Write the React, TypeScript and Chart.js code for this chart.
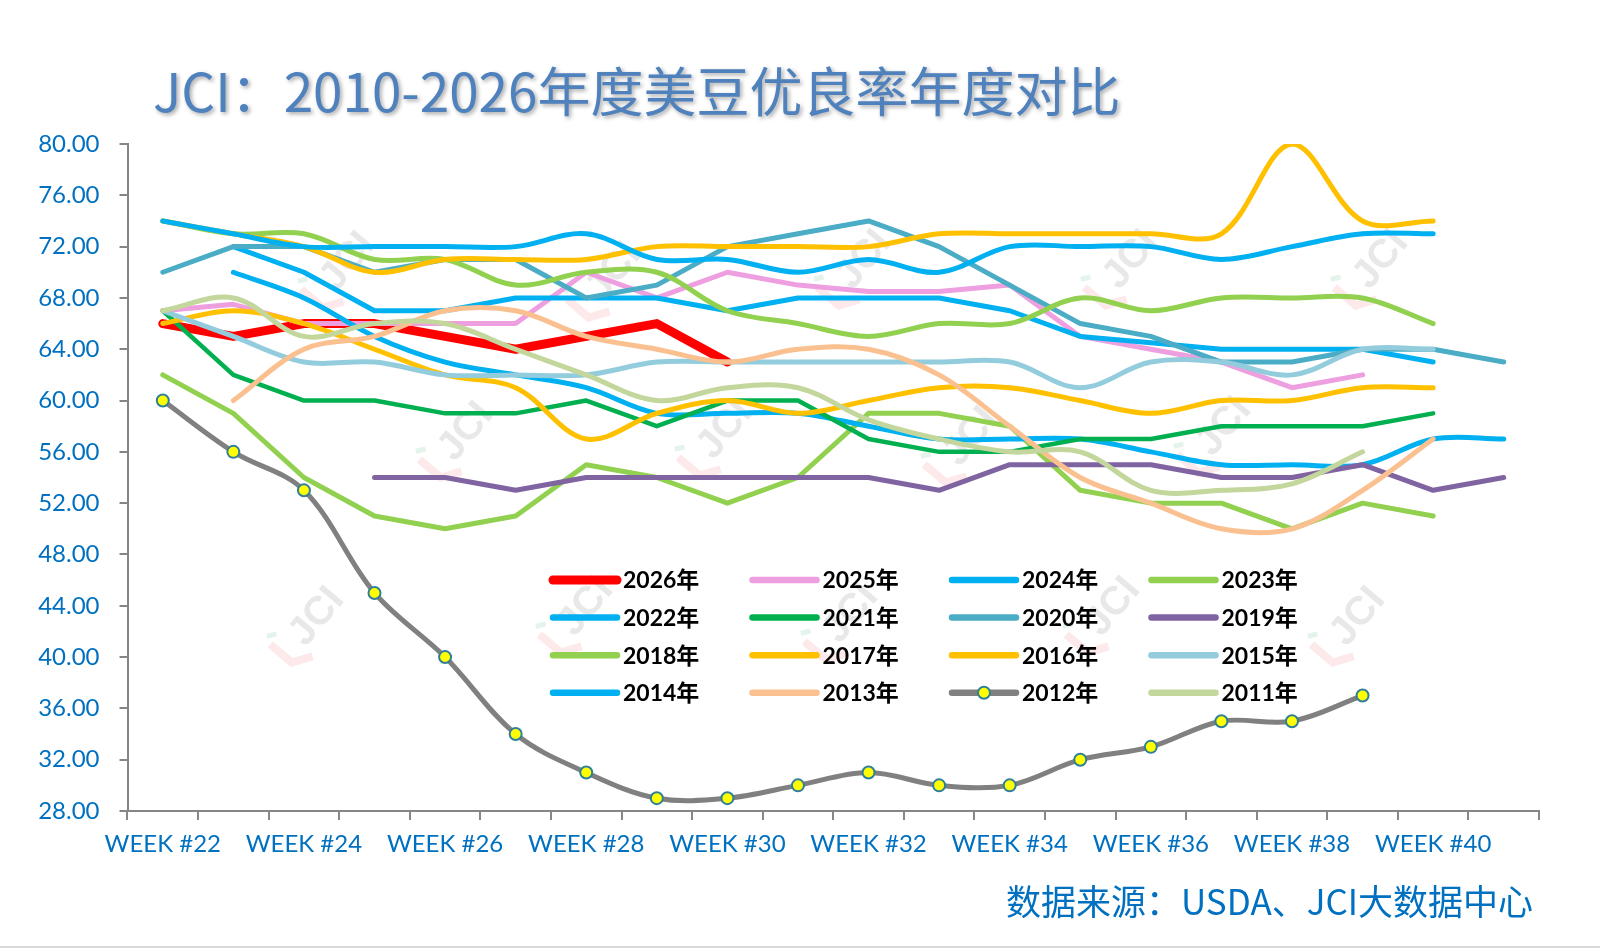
import { useEffect, useRef } from 'react';
import { Chart, registerables } from 'chart.js';

Chart.register(...registerables);

const TITLE = 'JCI：2010-2026年度美豆优良率年度对比';
const SOURCE = '数据来源：USDA、JCI大数据中心';

const weeks = [
  'WEEK #22', 'WEEK #23', 'WEEK #24', 'WEEK #25', 'WEEK #26', 'WEEK #27', 'WEEK #28',
  'WEEK #29', 'WEEK #30', 'WEEK #31', 'WEEK #32', 'WEEK #33', 'WEEK #34', 'WEEK #35',
  'WEEK #36', 'WEEK #37', 'WEEK #38', 'WEEK #39', 'WEEK #40', 'WEEK #41',
];

const _ = null;
const y2026 = [66, 65, 66, 66, 65, 64, 65, 66, 63, _, _, _, _, _, _, _, _, _, _, _];
const y2025 = [67, 67.5, 66, 66, 66, 66, 70, 68, 70, 69, 68.5, 68.5, 69, 65, 64, 63, 61, 62, _, _];
const y2024 = [_, 72, 70, 67, 67, 68, 68, 68, 67, 68, 68, 68, 67, 65, 64.5, 64, 64, 64, 63, _];
const y2023 = [62, 59, 54, 51, 50, 51, 55, 54, 52, 54, 59, 59, 58, 53, 52, 52, 50, 52, 51, _];
const y2022 = [_, 70, 68, 65, 63, 62, 61, 59, 59, 59, 58, 57, 57, 57, 56, 55, 55, 55, 57, 57];
const y2021 = [67, 62, 60, 60, 59, 59, 60, 58, 60, 60, 57, 56, 56, 57, 57, 58, 58, 58, 59, _];
const y2020 = [70, 72, 72, 70, 71, 71, 68, 69, 72, 73, 74, 72, 69, 66, 65, 63, 63, 64, 64, 63];
const y2019 = [_, _, _, 54, 54, 53, 54, 54, 54, 54, 54, 53, 55, 55, 55, 54, 54, 55, 53, 54];
const y2018 = [74, 73, 73, 71, 71, 69, 70, 70, 67, 66, 65, 66, 66, 68, 67, 68, 68, 68, 66, _];
const y2017 = [66, 67, 66, 64, 62, 61, 57, 59, 60, 59, 60, 61, 61, 60, 59, 60, 60, 61, 61, _];
const y2016 = [74, 73, 72, 70, 71, 71, 71, 72, 72, 72, 72, 73, 73, 73, 73, 73, 80, 74, 74, _];
const y2015 = [67, 65, 63, 63, 62, 62, 62, 63, 63, 63, 63, 63, 63, 61, 63, 63, 62, 64, 64, _];
const y2014 = [74, 73, 72, 72, 72, 72, 73, 71, 71, 70, 71, 70, 72, 72, 72, 71, 72, 73, 73, _];
const y2013 = [_, 60, 64, 65, 67, 67, 65, 64, 63, 64, 64, 62, 58, 54, 52, 50, 50, 53, 57, _];
const y2012 = [60, 56, 53, 45, 40, 34, 31, 29, 29, 30, 31, 30, 30, 32, 33, 35, 35, 37, _, _];
const y2011 = [67, 68, 65, 66, 66, 64, 62, 60, 61, 61, 58.5, 57, 56, 56, 53, 53, 53.5, 56, _, _];

const series = [
  { label: '2026年', data: y2026, color: '#ff0000', width: 9, smooth: false },
  { label: '2025年', data: y2025, color: '#ee9fe0', width: 5, smooth: false },
  { label: '2024年', data: y2024, color: '#00b0f0', width: 5, smooth: false },
  { label: '2023年', data: y2023, color: '#92d050', width: 5, smooth: false },
  { label: '2022年', data: y2022, color: '#00b0f0', width: 5, smooth: true },
  { label: '2021年', data: y2021, color: '#00b050', width: 4.5, smooth: false },
  { label: '2020年', data: y2020, color: '#4bacc6', width: 5, smooth: false },
  { label: '2019年', data: y2019, color: '#8064a2', width: 5, smooth: false },
  { label: '2018年', data: y2018, color: '#92d050', width: 5, smooth: true },
  { label: '2017年', data: y2017, color: '#ffc000', width: 5, smooth: true },
  { label: '2016年', data: y2016, color: '#ffc000', width: 5, smooth: true },
  { label: '2015年', data: y2015, color: '#93cddd', width: 5, smooth: true },
  { label: '2014年', data: y2014, color: '#00b0f0', width: 5, smooth: true },
  { label: '2013年', data: y2013, color: '#fac090', width: 5, smooth: true },
  { label: '2012年', data: y2012, color: '#808080', width: 5, smooth: true },
  { label: '2011年', data: y2011, color: '#c3d69b', width: 5, smooth: true },
];

// faint "JCI" watermark spots
const marks = [
  [337, 275], [603, 285], [853, 273], [1120, 273], [1370, 273],
  [455, 445], [714, 443], [960, 450], [1213, 440],
  [306, 630], [575, 620], [840, 627], [1102, 620], [1347, 630],
];

function drawMark(ctx: CanvasRenderingContext2D, x: number, y: number) {
  ctx.save();
  ctx.translate(x, y);
  ctx.rotate(-50 * Math.PI / 180);
  ctx.lineCap = 'butt';
  ctx.strokeStyle = 'rgba(245,150,160,0.22)';
  ctx.lineWidth = 8;
  ctx.beginPath();
  ctx.moveTo(-34, -18);
  ctx.lineTo(-34, 10);
  ctx.lineTo(-16, 22);
  ctx.stroke();
  ctx.strokeStyle = 'rgba(120,200,150,0.2)';
  ctx.lineWidth = 5;
  ctx.beginPath();
  ctx.moveTo(-30, -26);
  ctx.lineTo(-22, -20);
  ctx.stroke();
  ctx.font = 'bold 40px "Liberation Sans"';
  ctx.fillStyle = 'rgba(185,185,185,0.32)';
  ctx.textBaseline = 'middle';
  ctx.textAlign = 'left';
  ctx.fillText('JCI', -14, 0);
  ctx.restore();
}

const decor = {
  id: 'decor',
  beforeDatasetsDraw(chart: Chart) {
    const ctx = chart.ctx;
    for (const [x, y] of marks) drawMark(ctx, x, y);
  },
  afterDraw(chart: Chart) {
    const ctx = chart.ctx;
    ctx.save();

    // title
    ctx.font = '400 53px "Noto Sans CJK SC"';
    ctx.fillStyle = '#4f81bd';
    ctx.textBaseline = 'middle';
    ctx.textAlign = 'left';
    ctx.shadowColor = 'rgba(0,0,0,0.35)';
    ctx.shadowBlur = 4;
    ctx.shadowOffsetX = 2;
    ctx.shadowOffsetY = 2;
    ctx.fillText(TITLE, 153, 92);
    ctx.shadowColor = 'transparent';
    ctx.shadowBlur = 0;
    ctx.shadowOffsetX = 0;
    ctx.shadowOffsetY = 0;

    // source
    ctx.font = '35px "Noto Sans CJK SC"';
    ctx.fillStyle = '#0070c0';
    ctx.textAlign = 'right';
    ctx.fillText(SOURCE, 1533, 902);

    // legend, 4 columns
    ctx.textAlign = 'left';
    ctx.font = 'bold 23px Lato, "Noto Sans CJK SC"';
    chart.data.datasets.forEach((ds: any, i: number) => {
      const col = i % 4;
      const row = Math.floor(i / 4);
      const x0 = 553 + col * 199.5;
      const y0 = 580 + row * 37.6;
      ctx.strokeStyle = ds.borderColor;
      ctx.lineWidth = i === 0 ? 9 : 6.5;
      ctx.lineCap = 'round';
      ctx.beginPath();
      ctx.moveTo(x0, y0);
      ctx.lineTo(x0 + 64, y0);
      ctx.stroke();
      if (ds.pointRadius > 0) {
        ctx.beginPath();
        ctx.arc(x0 + 32, y0, 6, 0, Math.PI * 2);
        ctx.fillStyle = ds.pointBackgroundColor;
        ctx.fill();
        ctx.lineWidth = 2;
        ctx.strokeStyle = ds.pointBorderColor;
        ctx.stroke();
      }
      ctx.fillStyle = '#000000';
      ctx.fillText(ds.label, x0 + 70, y0 + 1);
    });

    // bottom border
    ctx.strokeStyle = '#d9d9d9';
    ctx.lineWidth = 2;
    ctx.beginPath();
    ctx.moveTo(0, 947);
    ctx.lineTo(1600, 947);
    ctx.stroke();

    ctx.restore();
  },
};

export default function App() {
  const canvasRef = useRef<HTMLCanvasElement>(null);
  const chartRef = useRef<Chart | null>(null);

  useEffect(() => {
    document.body.style.margin = '0';
    if (!canvasRef.current) return;
    const ctx = canvasRef.current.getContext('2d');
    if (!ctx) return;

    const n = series.length;
    chartRef.current?.destroy();
    chartRef.current = new Chart(ctx, {
      type: 'line',
      data: {
        labels: weeks,
        datasets: series.map((s, i) => ({
          label: s.label,
          data: s.data,
          borderColor: s.color,
          backgroundColor: s.color,
          borderWidth: s.width,
          tension: s.smooth ? 0.35 : 0,
          borderCapStyle: 'round',
          borderJoinStyle: 'round',
          fill: false,
          order: n - 1 - i,
          pointRadius: s.label === '2012年' ? 6 : 0,
          pointHoverRadius: s.label === '2012年' ? 6 : 0,
          pointBackgroundColor: '#ffff00',
          pointBorderColor: '#2f7f9a',
          pointBorderWidth: 2,
        })),
      },
      options: {
        responsive: true,
        maintainAspectRatio: false,
        animation: false,
        devicePixelRatio: 1,
        layout: { padding: { top: 144, right: 61, bottom: 0, left: 0 } },
        plugins: {
          legend: { display: false },
          tooltip: { enabled: false },
          title: { display: false },
        },
        scales: {
          x: {
            type: 'category',
            offset: true,
            afterFit: (s: any) => { s.height = 138; },
            grid: {
              offset: true,
              drawOnChartArea: false,
              drawTicks: true,
              tickLength: 9,
              color: '#868686',
              lineWidth: 2,
            },
            border: { display: true, color: '#868686', width: 2 },
            ticks: {
              autoSkip: false,
              maxRotation: 0,
              minRotation: 0,
              padding: 10,
              color: '#0070c0',
              font: { family: 'Lato', size: 24 },
              callback: (_v: any, i: number) => (i % 2 === 0 ? weeks[i] : ''),
            },
          },
          y: {
            min: 28,
            max: 80,
            afterFit: (s: any) => { s.width = 127.5; },
            grid: {
              drawOnChartArea: false,
              drawTicks: true,
              tickLength: 8,
              color: '#868686',
              lineWidth: 2,
            },
            border: { display: true, color: '#868686', width: 2 },
            ticks: {
              stepSize: 4,
              padding: 20,
              color: '#0070c0',
              font: { family: 'Lato', size: 24 },
              callback: (v: any) => Number(v).toFixed(2),
            },
          },
        },
      },
      plugins: [decor],
    });

    return () => { chartRef.current?.destroy(); };
  }, []);

  return (
    <div style={{ width: 1600, height: 949, position: 'relative', background: '#ffffff' }}>
      <canvas ref={canvasRef} />
    </div>
  );
}
